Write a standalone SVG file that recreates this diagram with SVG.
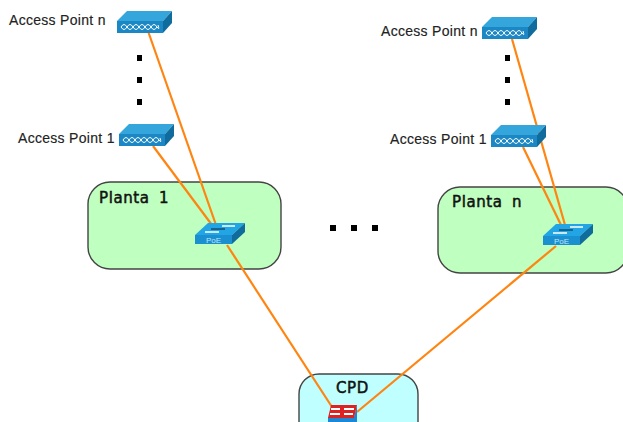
<svg xmlns="http://www.w3.org/2000/svg" width="623" height="422" viewBox="0 0 623 422">
<style>
.lbl{font-family:"Liberation Sans",Arial,sans-serif;font-size:14px;letter-spacing:.3px;fill:#222;stroke:#222;stroke-width:.15}
.zone{stroke:#444;stroke-width:1.4}
.zt{font-family:"DejaVu Sans",sans-serif;font-size:15px;letter-spacing:.6px;word-spacing:4px;fill:#111;stroke:#111;stroke-width:.5}
.c{stroke:#ff8410;stroke-width:2.2;fill:none}
.dot{fill:#000}
.ring{fill:none;stroke:#fff;stroke-width:1}
</style>
<defs>
<g id="ap">
<path d="M0 10 10 0H55L46 10Z" fill="#35a6dc"/>
<path d="M46 10 55 0V12L46 22Z" fill="#0f6c9c"/>
<rect x="0" y="10" width="46" height="12" fill="#1b87c5"/>
<path class="ring" d="M4 16Q7 11 10 16T16 16T22 16T28 16T34 16T40 16Q43 20 41 14M4 16Q7 21 10 16T16 16T22 16T28 16T34 16T40 16"/>
</g>
<g id="sw">
<path d="M0 12 13 0H50L37 12Z" fill="#22a5e4"/>
<path d="M37 12 50 0V9L37 21Z" fill="#0f6c9c"/>
<rect x="0" y="12" width="37" height="9" fill="#1b90d0"/>
<path d="M10 9H24M27 3H40" stroke="#fff" stroke-width="1.300"/>
<path d="M16 6H30" stroke="#123" stroke-width="1"/>
<text x="18.500" y="19.500" font-family="Liberation Sans,sans-serif" font-size="8" fill="#bfe4f6" text-anchor="middle">PoE</text>
</g>
</defs>
<rect width="623" height="422" fill="#fff"/>
<g id="planta1"><rect class="zone" x="88" y="182" width="193" height="87" rx="22" fill="#bfffbf"/><text class="zt" x="99" y="203">Planta 1</text></g>
<g id="plantan"><rect class="zone" x="438" y="187" width="190" height="86" rx="22" fill="#bfffbf"/><text class="zt" x="452" y="207">Planta n</text></g>
<g id="cpd-zone"><rect class="zone" x="299" y="374" width="119" height="70" rx="20" fill="#bfffff"/><text class="zt" x="336" y="393">CPD</text></g>
<g id="connectors">
<path class="c" d="M148 31 216 225"/>
<path class="c" d="M153 146 212 225"/>
<path class="c" d="M227 245 332 407"/>
<path class="c" d="M512 39 565 225"/>
<path class="c" d="M523 147 561 225"/>
<path class="c" d="M556 246 357 412"/>
</g>
<g id="ap-n-1"><use href="#ap" x="117" y="11"/><text class="lbl" x="9" y="25">Access Point n</text></g>
<g id="ap-1-1"><use href="#ap" x="119" y="124"/><text class="lbl" x="18" y="143">Access Point 1</text></g>
<g id="ap-n-n"><use href="#ap" x="482" y="17"/><text class="lbl" x="381" y="36">Access Point n</text></g>
<g id="ap-1-n"><use href="#ap" x="491" y="125"/><text class="lbl" x="390" y="144">Access Point 1</text></g>
<g id="sw-1"><use href="#sw" x="195" y="223"/></g>
<g id="sw-n"><use href="#sw" x="543" y="224"/></g>
<g id="dots">
<rect class="dot" x="137" y="55" width="5" height="6"/><rect class="dot" x="137" y="77" width="5" height="6"/><rect class="dot" x="137" y="99" width="5" height="6"/>
<rect class="dot" x="505" y="55" width="5" height="6"/><rect class="dot" x="505" y="77" width="5" height="6"/><rect class="dot" x="505" y="99" width="5" height="6"/>
<rect class="dot" x="330" y="225" width="6" height="6"/><rect class="dot" x="351" y="225" width="6" height="6"/><rect class="dot" x="372" y="225" width="6" height="6"/>
</g>
<g id="cpd">
<path d="M328 422V417H354L357 405V422Z" fill="#1b87d5"/>
<path d="M331 405H357L354 418H328Z" fill="#dd2222"/>
<path d="M331 409H340M344 409H354M330 414H340M344 414H353" stroke="#fff" stroke-width="2"/>
</g>
</svg>
